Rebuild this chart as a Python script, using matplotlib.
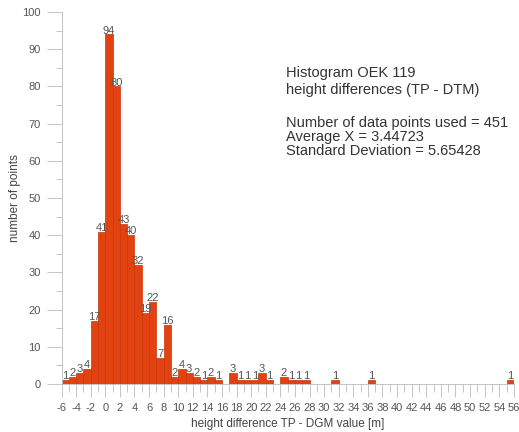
import matplotlib
matplotlib.use("Agg")
import matplotlib.pyplot as plt
from matplotlib.ticker import MultipleLocator
import numpy as np

plt.rcParams["font.family"] = ["Liberation Sans", "DejaVu Sans"]
plt.rcParams["axes.unicode_minus"] = False

# --- data: 1 m bins, left edges and counts -------------------------------------------------------
bin_left = np.arange(-6, 56)
counts = [1, 2, 3, 4, 17, 41, 94, 80, 43, 40, 32, 19, 22, 7, 16, 2,      # -6 .. 9
          4, 3, 2, 1, 2, 1, 0, 3, 1, 1, 1, 3, 1, 0, 2, 1, 1, 1,             # 10 .. 27
          0, 0, 0, 1, 0, 0, 0, 0, 1,                                         # 28 .. 36
          0, 0, 0, 0, 0, 0, 0, 0, 0, 0, 0, 0, 0, 0, 0, 0, 0, 0, 1]           # 37 .. 55

title_lines = ["Histogram OEK 119", "height differences (TP - DTM)"]
stat_lines = ["Number of data points used = 451",
              "Average X = 3.44723",
              "Standard Deviation = 5.65428"]

BAR_COL = "#e2420f"
TXT_COL = "#555555"
AX_COL = "#bbbbbb"

fig = plt.figure(figsize=(5.19, 4.32), dpi=100)
ax = fig.add_axes([0.1185, 0.111, 0.8715, 0.861])

ax.bar(bin_left, counts, width=1.0, align="edge", color=BAR_COL,
       edgecolor="#c8350a", linewidth=0.5)

# count labels above non-empty bins
for x, c in zip(bin_left, counts):
    if c > 0:
        ax.text(x + 0.5, c - 0.3, str(c), ha="center", va="bottom",
                fontsize=8, color=TXT_COL)

ax.set_xlim(-6, 56)
ax.set_ylim(0, 100)

ax.xaxis.set_major_locator(MultipleLocator(2))
ax.xaxis.set_minor_locator(MultipleLocator(1))
ax.yaxis.set_major_locator(MultipleLocator(10))
ax.yaxis.set_minor_locator(MultipleLocator(5))

ax.tick_params(axis="x", which="major", direction="out", length=9, width=0.6,
               colors=AX_COL, labelcolor=TXT_COL, labelsize=8, pad=5)
ax.tick_params(axis="x", which="minor", direction="out", length=6, width=0.6,
               colors=AX_COL)
ax.tick_params(axis="y", which="major", direction="out", length=11, width=0.6,
               colors=AX_COL, labelcolor=TXT_COL, labelsize=8, pad=4)
ax.tick_params(axis="y", which="minor", direction="out", length=4, width=0.6,
               colors=AX_COL)

for side in ["top", "right"]:
    ax.spines[side].set_visible(False)
for side in ["left", "bottom"]:
    ax.spines[side].set_color(AX_COL)
    ax.spines[side].set_linewidth(0.6)

ax.set_xlabel("height difference TP - DGM value [m]", fontsize=8.5, color="#444444",
              labelpad=3)
ax.set_ylabel("number of points", fontsize=8.5, color="#444444", labelpad=1)

# info block, upper right
ax.text(0.497, 0.855, "\n".join(title_lines), transform=ax.transAxes,
        ha="left", va="top", fontsize=10.5, color="#333333", linespacing=1.25)
ax.text(0.497, 0.72, "\n".join(stat_lines), transform=ax.transAxes,
        ha="left", va="top", fontsize=10.5, color="#333333", linespacing=1.0)

fig.savefig("out.png", dpi=100)
